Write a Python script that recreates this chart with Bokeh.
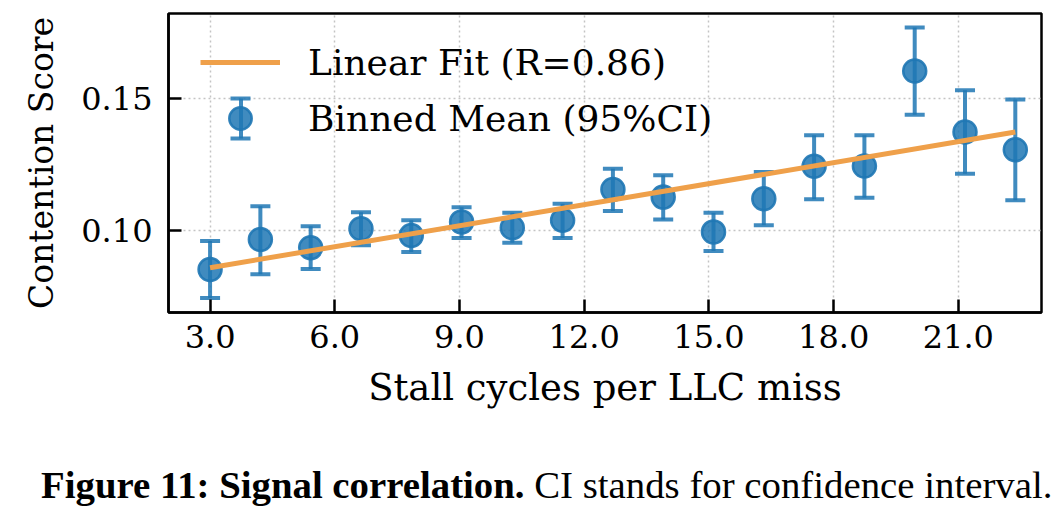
from bokeh.plotting import figure
from bokeh.layouts import column
from bokeh.models import (ColumnDataSource, Whisker, TeeHead, FixedTicker,
                          NumeralTickFormatter, Legend, LegendItem, Range1d, Div)
from bokeh.embed import file_html
from bokeh.resources import INLINE

# ---- data ----
x_bins = [3.0, 4.21, 5.42, 6.63, 7.84, 9.05, 10.27, 11.48, 12.69, 13.90,
          15.11, 16.32, 17.53, 18.74, 19.95, 21.16, 22.37]
binned_mean = [0.0851, 0.0965, 0.0934, 0.1006, 0.0980, 0.1032, 0.1010, 0.1038,
               0.1155, 0.1126, 0.0994, 0.1120, 0.1243, 0.1244, 0.1605, 0.1373, 0.1306]
ci_low = [0.0743, 0.0833, 0.0853, 0.0943, 0.0918, 0.0971, 0.0953, 0.0971,
          0.1073, 0.1041, 0.0921, 0.1019, 0.1118, 0.1124, 0.1439, 0.1215, 0.1114]
ci_high = [0.0959, 0.1091, 0.1015, 0.1069, 0.1038, 0.1088, 0.1067, 0.1101,
           0.1234, 0.1209, 0.1067, 0.1221, 0.1361, 0.1361, 0.1770, 0.1532, 0.1497]
fit_x = [3.0, 22.37]
fit_y = [0.0858, 0.1373]
x_tick_values = [3, 6, 9, 12, 15, 18, 21]
y_tick_values = [0.10, 0.15]

fit_label = "Linear Fit (R=0.86)"
mean_label = "Binned Mean (95%CI)"
x_label = "Stall cycles per LLC miss"
y_label = "Contention Score"
caption_bold = "Figure 11: Signal correlation."
caption_rest = "CI stands for confidence interval."

# ---- styles ----
BLUE = "#1f77b4"
ORANGE = "#efa04a"
FONT = "DejaVu Serif"
CAP_FONT = "Liberation Serif"

src = ColumnDataSource(dict(x=x_bins, y=binned_mean, lo=ci_low, hi=ci_high))

p = figure(width=1044, height=440, output_backend="svg", toolbar_location=None,
           x_range=Range1d(2.0, 23.0), y_range=Range1d(0.0688, 0.1823),
           min_border_left=168, min_border_right=3, min_border_top=13,
           min_border_bottom=128)

p.outline_line_color = "black"
p.outline_line_width = 2.5
p.background_fill_color = "white"
p.border_fill_color = "white"

# grid
for g in (p.xgrid, p.ygrid):
    g.grid_line_color = "#c4c4c4"
    g.grid_line_width = 1.5
    g.grid_line_dash = "2 3"

# axes
p.xaxis.ticker = FixedTicker(ticks=x_tick_values)
p.yaxis.ticker = FixedTicker(ticks=y_tick_values)
p.xaxis.formatter = NumeralTickFormatter(format="0.0")
p.yaxis.formatter = NumeralTickFormatter(format="0.00")
for ax in (p.xaxis, p.yaxis):
    ax.axis_line_color = "black"
    ax.axis_line_width = 2.5
    ax.major_tick_in = 13
    ax.major_tick_out = 0
    ax.major_tick_line_width = 2.5
    ax.major_tick_line_color = "black"
    ax.minor_tick_line_color = None
    ax.major_label_text_font = FONT
    ax.major_label_text_font_size = "32px"
    ax.major_label_text_color = "black"
    ax.axis_label_text_font = FONT
    ax.axis_label_text_font_style = "normal"
    ax.axis_label_text_color = "black"
p.xaxis.axis_label = x_label
p.yaxis.axis_label = y_label
p.xaxis.axis_label_text_font_size = "37px"
p.yaxis.axis_label_text_font_size = "33px"
p.xaxis.major_label_standoff = 12
p.xaxis.axis_label_standoff = 15
p.yaxis.major_label_standoff = 16
p.yaxis.axis_label_standoff = 17

# error bars
head = dict(size=20, line_color=BLUE, line_alpha=0.85, line_width=4)
whisk = Whisker(source=src, base="x", upper="hi", lower="lo", dimension="height",
                line_color=BLUE, line_alpha=0.85, line_width=4,
                upper_head=TeeHead(**head), lower_head=TeeHead(**head))
p.add_layout(whisk)

# zero-size helpers: invisible in the plot, they only draw the legend's error-bar icon
stem_r = p.rect("x", "y", source=src, width=0, height=0, fill_color=BLUE,
                fill_alpha=0.85, line_color=None)
cap_r = p.scatter("x", "y", source=src, marker="dash", size=0,
                  line_color=BLUE, line_alpha=0.85, line_width=4)

dot_r = p.scatter("x", "y", source=src, marker="circle", size=23,
                  fill_color=BLUE, fill_alpha=0.85, line_color=BLUE,
                  line_alpha=0.9, line_width=2.5)
fit_r = p.line(fit_x, fit_y, line_color=ORANGE, line_width=5)

# legend geometry (screen px from the frame's bottom-left corner)
LX, LY = 32, 166            # main legend corner
ICON_CX = LX + 40           # centre of the "Binned Mean" icon
ICON_CY = LY + 28


def icon_legend(renderer, w, h, cx, cy):
    return Legend(items=[LegendItem(label=" ", renderers=[renderer])],
                  location=(cx - w / 2, cy - h / 2), glyph_width=w,
                  glyph_height=h, label_standoff=0, spacing=0, padding=0,
                  margin=0, border_line_color=None, background_fill_alpha=0,
                  label_text_font_size="1px", label_height=1, label_width=1)


p.add_layout(icon_legend(stem_r, 5, 50, ICON_CX, ICON_CY))
p.add_layout(icon_legend(cap_r, 50, 50, ICON_CX, ICON_CY + 20))
p.add_layout(icon_legend(cap_r, 50, 50, ICON_CX, ICON_CY - 20))

legend = Legend(items=[LegendItem(label=fit_label, renderers=[fit_r]),
                       LegendItem(label=mean_label, renderers=[dot_r])],
                location=(LX, LY), glyph_width=80, glyph_height=56,
                label_standoff=28, spacing=0, padding=0, margin=0,
                border_line_color=None, background_fill_alpha=0,
                label_text_font=FONT, label_text_font_size="36px",
                label_text_color="black", label_text_baseline="middle")
p.add_layout(legend)

caption = Div(text=f"<b>{caption_bold}</b> {caption_rest}", width=1044, height=64,
              styles={"font-family": CAP_FONT, "font-size": "38.8px", "color": "black",
                      "text-align": "center", "line-height": "60px",
                      "padding-top": "10px", "padding-left": "36px",
                      "white-space": "nowrap", "box-sizing": "border-box",
                      "background-color": "white"})

layout = column(p, caption, spacing=0)
open("out.html", "w").write(file_html(layout, INLINE))
